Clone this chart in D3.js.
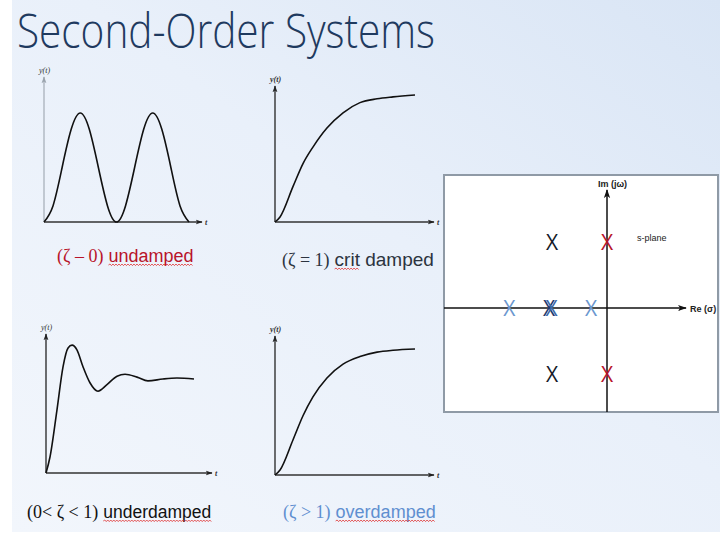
<!DOCTYPE html>
<html><head><meta charset="utf-8">
<script src="https://cdn.jsdelivr.net/npm/d3@7"></script>
<style>html,body{margin:0;padding:0;background:#fff;} svg{display:block}</style>
</head><body>
<svg id="c" width="720" height="540"></svg>
<script>
// ---------------- data ----------------
const titleText = "Second-Order Systems";

// step responses (t in arbitrary time units, y normalised to the final value)
const undampedT = [0,0.5,1,1.5,2,2.5,3,3.5,4,4.5,5,5.5,6,6.5,7,7.5,8];
const undampedY = [0,0.15,0.5,0.85,1,0.85,0.5,0.15,0,0.15,0.5,0.85,1,0.85,0.5,0.15,0];

const critT = [0,0.36,1.29,2,2.71,3.71,4.86,6.07,7.29,8.43,10];
const critY = [0,0.04,0.28,0.46,0.59,0.74,0.86,0.94,0.97,0.985,1.0];

const underT = [0,0.27,0.74,1.15,1.49,1.76,2.09,2.5,2.97,3.51,4.12,4.8,5.34,6.15,6.89,7.9,8.85,10];
const underY = [0,0.17,0.67,1.13,1.33,1.36,1.31,1.13,0.96,0.87,0.94,1.03,1.05,1.02,0.98,1.0,1.01,1.0];

const overT = [0,0.36,1.29,2,2.71,3.71,4.86,6.07,7.29,8.43,10];
const overY = [0,0.04,0.28,0.47,0.62,0.77,0.88,0.94,0.975,0.99,1.0];

const caseMath = ["(\u03B6 \u2013 0)", "(\u03B6 = 1)", "(0< \u03B6 < 1)", "(\u03B6 > 1)"];
const caseWord = ["undamped", "crit damped", "underdamped", "overdamped"];
const caseSpell = ["undamped", "crit", "underdamped", "overdamped"];

// s-plane poles
const poleRe   = [0, 0, -1.35, -1.35, -2.40, -0.39, -1.42, -1.36];
const poleIm   = [1, -1, 1, -1, 0, 0, 0, 0];
const poleCase = ["undamped","undamped","underdamped","underdamped","overdamped","overdamped","critical","critical2"];

// ---------------- styles / layout ----------------
const caseColor = {undamped:"#b8142a", critical:"#1e3a6a", critical2:"#3d66a6", underdamped:"#151a28", overdamped:"#6b97cf"};
const labelColor = ["#b8142a", "#2c3440", "#111111", "#5f8fd0"];

const panels = [
  {t:undampedT, y:undampedY, xr:[44,189], yr:[222,113], yTop:77, xRight:202, axisCol:"#a9b1bb", lab:[57,262], mathSize:18, wordSize:18},
  {t:critT,     y:critY,     xr:[275,415], yr:[222,95], yTop:86, xRight:434, axisCol:"#222", lab:[282,266], mathSize:18, wordSize:19},
  {t:underT,    y:underY,    xr:[46,194], yr:[473,379], yTop:334, xRight:212, axisCol:"#222", lab:[27,518], mathSize:18, wordSize:17.5},
  {t:overT,     y:overY,     xr:[275,415], yr:[475,349], yTop:336, xRight:434, axisCol:"#222", lab:[283,518], mathSize:18, wordSize:18}
];

const svg = d3.select("#c");
const defs = svg.append("defs");
const grad = defs.append("linearGradient").attr("id","bg").attr("x1","0").attr("y1","1").attr("x2","1").attr("y2","0");
grad.append("stop").attr("offset","0").attr("stop-color","#f2f6fc");
grad.append("stop").attr("offset","0.55").attr("stop-color","#e9f0fa");
grad.append("stop").attr("offset","1").attr("stop-color","#d9e5f5");

function marker(id, col, size) {
  defs.append("marker").attr("id",id).attr("viewBox","0 0 10 10").attr("refX",9).attr("refY",5)
    .attr("markerWidth",size).attr("markerHeight",size).attr("orient","auto").attr("markerUnits","userSpaceOnUse")
    .append("path").attr("d","M0,1.5 L10,5 L0,8.5 L2.5,5 Z").attr("fill",col);
}
marker("arrDark","#222",7);
marker("arrGray","#9aa3ad",7);
marker("arrS","#111",9);

svg.append("rect").attr("x",0).attr("y",0).attr("width",720).attr("height",540).attr("fill","#ffffff");
svg.append("rect").attr("x",12).attr("y",0).attr("width",708).attr("height",532).attr("fill","url(#bg)");

// title
svg.append("text").attr("x",17).attr("y",48).text(titleText)
  .attr("font-family","'Open Sans', 'Noto Sans', sans-serif").attr("font-weight",300)
  .attr("font-size",48).attr("fill","#1f3a5f")
  .attr("textLength",418).attr("lengthAdjust","spacingAndGlyphs");

function squiggle(g, x1, x2, y) {
  let d = `M${x1},${y}`; let up = true;
  for (let x = x1 + 1.5; x <= x2; x += 1.5) { d += ` L${x},${up ? y - 1 : y + 0.6}`; up = !up; }
  g.append("path").attr("d", d).attr("fill","none").attr("stroke","#e03030").attr("stroke-width",0.8);
}

panels.forEach((p, i) => {
  const g = svg.append("g");
  const x = d3.scaleLinear().domain([0, d3.max(p.t)]).range(p.xr);
  const y = d3.scaleLinear().domain([0, 1]).range(p.yr);
  const x0 = x(0), y0 = y(0);
  // axes
  g.append("line").attr("x1",x0).attr("y1",y0).attr("x2",x0).attr("y2",p.yTop)
    .attr("stroke",p.axisCol).attr("stroke-width",1.3).attr("marker-end", i===0 ? "url(#arrGray)" : "url(#arrDark)");
  g.append("line").attr("x1",x0).attr("y1",y0).attr("x2",p.xRight).attr("y2",y0)
    .attr("stroke","#333").attr("stroke-width",1.5).attr("marker-end","url(#arrDark)");
  g.append("text").attr("x",x0 - 5).attr("y",p.yTop - 4).text("y(t)")
    .attr("font-family","'Liberation Serif', serif").attr("font-style","italic").attr("font-weight", (i%2) ? "bold" : "normal")
    .attr("font-size",8).attr("fill","#333");
  g.append("text").attr("x",p.xRight + 3).attr("y",y0 + 3).text("t")
    .attr("font-family","'Liberation Serif', serif").attr("font-style","italic").attr("font-weight","bold")
    .attr("font-size",8).attr("fill","#333");
  // curve
  const line = d3.line().x((d, k) => x(p.t[k])).y((d, k) => y(p.y[k])).curve(i===0 ? d3.curveNatural : d3.curveMonotoneX);
  g.append("path").datum(p.t).attr("d", line).attr("fill","none").attr("stroke","#111").attr("stroke-width",1.6);
  // label
  const m = g.append("text").attr("x",p.lab[0]).attr("y",p.lab[1]).text(caseMath[i])
    .attr("font-family","'Liberation Serif', 'Times New Roman', serif").attr("font-size",p.mathSize).attr("fill",labelColor[i]);
  const mw = m.node().getComputedTextLength();
  const wx = p.lab[0] + mw + 5;
  g.append("text").attr("x",wx).attr("y",p.lab[1]).text(caseWord[i])
    .attr("font-family","'Liberation Sans', Arial, sans-serif").attr("font-size",p.wordSize).attr("fill",labelColor[i]);
  const tmp = g.append("text").attr("x",-100).attr("y",-100).text(caseSpell[i])
    .attr("font-family","'Liberation Sans', Arial, sans-serif").attr("font-size",p.wordSize);
  const sw = tmp.node().getComputedTextLength(); tmp.remove();
  squiggle(g, wx, wx + sw, p.lab[1] + 3);
});

// ---------------- s-plane ----------------
const box = {x:444, y:175, w:274, h:237};
const sp = svg.append("g");
sp.append("rect").attr("x",box.x).attr("y",box.y).attr("width",box.w).attr("height",box.h)
  .attr("fill","#ffffff").attr("stroke","#8f9aa6").attr("stroke-width",2);
const sx = d3.scaleLinear().domain([-4, 0]).range([box.x, 607]);
const sy = d3.scaleLinear().domain([-1, 1]).range([374, 242]);
sp.append("line").attr("x1",box.x).attr("y1",sy(0)).attr("x2",686).attr("y2",sy(0))
  .attr("stroke","#111").attr("stroke-width",1.5).attr("marker-end","url(#arrS)");
sp.append("line").attr("x1",sx(0)).attr("y1",box.y + box.h).attr("x2",sx(0)).attr("y2",190)
  .attr("stroke","#111").attr("stroke-width",1.5).attr("marker-end","url(#arrS)");
sp.append("text").attr("x",598).attr("y",187).text("Im (j\u03C9)")
  .attr("font-family","'Liberation Sans', Arial, sans-serif").attr("font-size",9).attr("font-weight","bold").attr("fill","#222");
sp.append("text").attr("x",690).attr("y",312).text("Re (\u03C3)")
  .attr("font-family","'Liberation Sans', Arial, sans-serif").attr("font-size",9).attr("font-weight","bold").attr("fill","#222");
sp.append("text").attr("x",637).attr("y",241).text("s-plane")
  .attr("font-family","'Liberation Sans', Arial, sans-serif").attr("font-size",9).attr("fill","#222");

sp.selectAll("text.pole").data(poleRe).enter().append("text").attr("class","pole")
  .attr("x",(d) => sx(d)).attr("y",(d, k) => sy(poleIm[k]) + 8)
  .attr("text-anchor","middle").text("X")
  .attr("font-family","'Open Sans', 'Liberation Sans', sans-serif").attr("font-size",21)
  .attr("fill",(d, k) => caseColor[poleCase[k]]);
</script>
</body></html>
